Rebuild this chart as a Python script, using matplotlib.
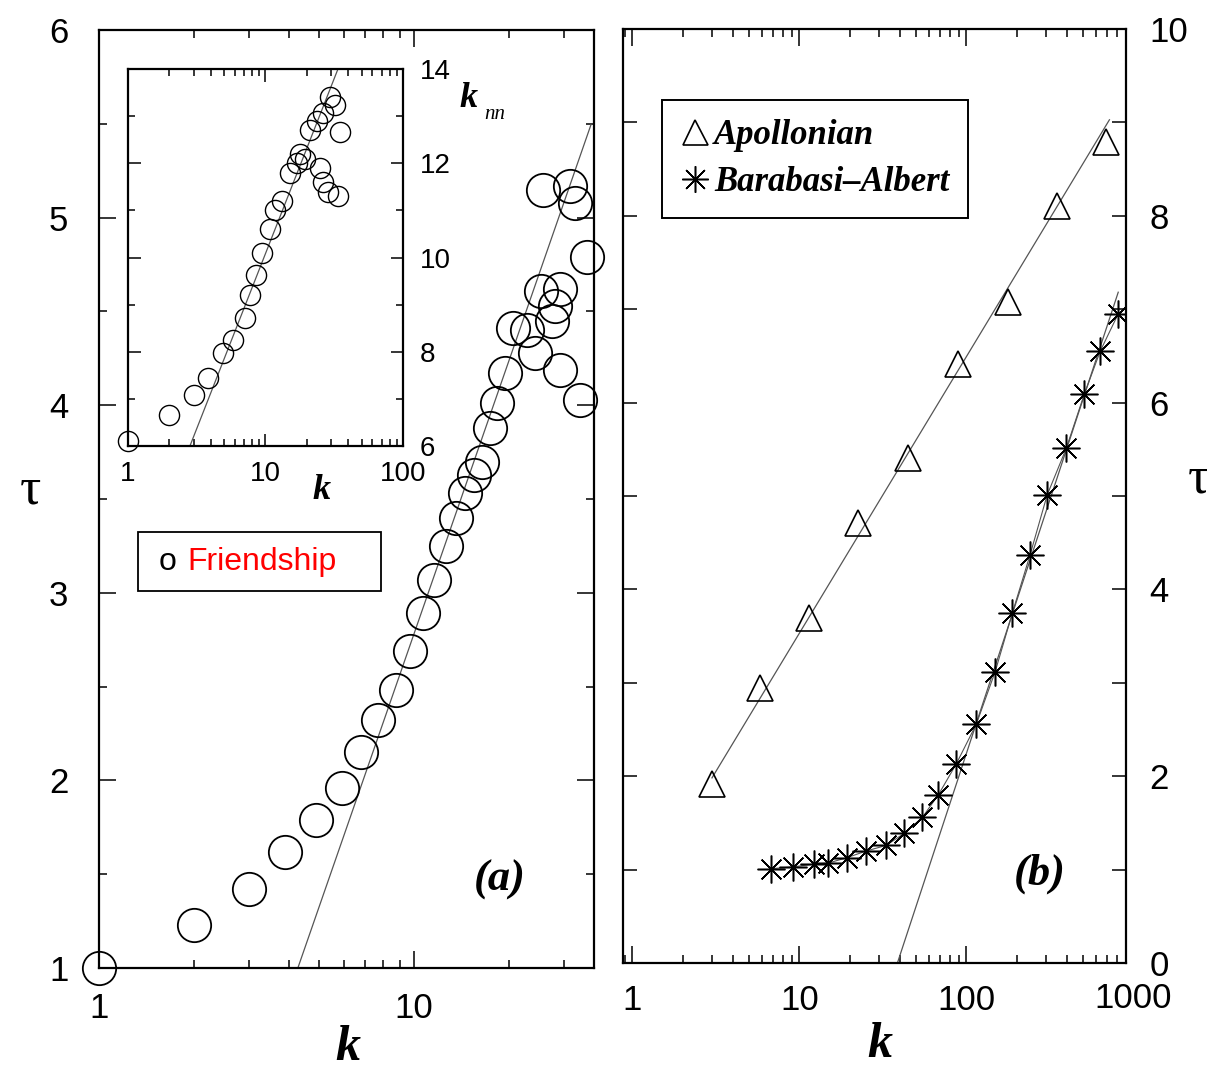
"""
Relaxation time tau vs degree k: (a) friendship network with k_nn inset,
(b) Apollonian and Barabasi-Albert networks.
"""

import matplotlib
matplotlib.use("Agg")  # headless backend
import matplotlib.pyplot as plt
import numpy as np
from matplotlib.lines import Line2D
from matplotlib.patches import Rectangle
from matplotlib.ticker import LogLocator, MultipleLocator, NullFormatter

# ---- panel (a): friendship network ----
friend_k = [1, 2, 3, 3.9, 4.9, 5.9, 6.8, 7.7, 8.8, 9.7, 10.7, 11.6, 12.6, 13.6,
            14.5, 15.5, 16.5, 17.4, 18.4, 19.4, 20.6, 22.8, 24.2, 25.4, 27.4,
            28.0, 29.1, 29.1, 33.7, 25.7, 31.3, 32.4, 35.4]
friend_tau = [1.0, 1.23, 1.42, 1.62, 1.79, 1.96, 2.15, 2.32, 2.48, 2.69, 2.89,
              3.07, 3.25, 3.40, 3.53, 3.63, 3.70, 3.88, 4.01, 4.17, 4.41, 4.40,
              4.28, 4.61, 4.45, 4.53, 4.62, 4.19, 4.03, 5.15, 5.17, 5.08, 4.79]
friend_fit = (-2.05, 4.83)       # tau = a + b*log10(k)
friend_fit_range = (4.28, 36.5)

# ---- inset: k_nn vs k ----
inset_k = [1, 2, 3, 3.8, 4.9, 5.8, 7.1, 7.7, 8.6, 9.4, 10.8, 11.7, 13.1, 15.1,
           16.9, 17.8, 19.5, 21.0, 23.6, 26.1, 29.4, 32.0, 34.8, 24.9, 26.1,
           28.5, 33.6]
inset_knn = [6.1, 6.66, 7.08, 7.44, 7.97, 8.25, 8.72, 9.2, 9.63, 10.1, 10.6,
             11.0, 11.2, 11.8, 12.0, 12.2, 12.1, 12.7, 12.9, 13.07, 13.4,
             13.24, 12.67, 11.9, 11.6, 11.4, 11.3]
inset_fit = (2.65, 7.43)
inset_fit_range = (2.8, 34.0)

# ---- panel (b): model networks ----
apol_k = [3, 5.8, 11.5, 22.5, 45, 89, 177, 350, 690]
apol_tau = [1.92, 2.94, 3.69, 4.71, 5.41, 6.41, 7.08, 8.10, 8.79]
apol_fit = (0.57, 2.96)
apol_fit_range = (3.0, 720.0)

ba_k = [6.8, 9.2, 12.3, 14.9, 19.4, 25.2, 33.2, 42.6, 54.6, 68, 87, 115, 149,
        189, 241, 305, 397, 509, 634, 813]
ba_tau = [1.01, 1.03, 1.06, 1.07, 1.13, 1.20, 1.26, 1.39, 1.56, 1.80, 2.13,
          2.56, 3.12, 3.75, 4.37, 5.01, 5.51, 6.09, 6.55, 6.95]
ba_fit = (-8.62, 5.43)
ba_fit_range = (38.6, 813.0)

legend_labels = ["Apollonian", "Barabasi\u2013Albert"]

SANS = "Liberation Sans"
SERIF = "Liberation Serif"
plt.rcParams["font.family"] = [SANS, "DejaVu Sans"]


def fit_line(ax, fit, k_range, **kw):
    """Draw tau = a + b*log10(k) over k_range."""
    k = np.logspace(np.log10(k_range[0]), np.log10(k_range[1]), 60)
    ax.plot(k, fit[0] + fit[1] * np.log10(k), color="#555555", lw=0.9, **kw)


def style_axes(ax, major_len=12, minor_len=6):
    for s in ax.spines.values():
        s.set_linewidth(1.6)
    ax.tick_params(which="both", direction="in", top=True, right=True,
                   width=1.1, colors="black")
    ax.tick_params(which="major", length=major_len)
    ax.tick_params(which="minor", length=minor_len)
    ax.xaxis.set_minor_locator(LogLocator(base=10, subs=np.arange(2, 10), numticks=20))
    ax.xaxis.set_minor_formatter(NullFormatter())


fig = plt.figure(figsize=(12.07, 10.77), dpi=100)

# ---------------- panel (a) ----------------
ax_a = fig.add_axes([0.0820, 0.1012, 0.4101, 0.8709])
ax_a.set_xscale("log")
ax_a.plot(friend_k, friend_tau, ls="none", marker="o", ms=24, mfc="none",
          mec="black", mew=1.3, clip_on=False, zorder=3)
fit_line(ax_a, friend_fit, friend_fit_range)
ax_a.set_xlim(1, 37.3)
ax_a.set_ylim(1, 6)
style_axes(ax_a)
ax_a.set_xticks([1, 10])
ax_a.set_xticklabels(["1", "10"])
ax_a.yaxis.set_major_locator(MultipleLocator(1))
ax_a.yaxis.set_minor_locator(MultipleLocator(0.5))
ax_a.tick_params(axis="y", labelsize=25, pad=22)
ax_a.tick_params(axis="x", labelsize=25, pad=17)

# friendship legend box
ax_a.add_patch(Rectangle((0.0788, 0.4019), 0.4909, 0.0629, transform=ax_a.transAxes,
                         facecolor="white", edgecolor="black", lw=1.3, zorder=5))
ax_a.text(0.139, 0.433, "o", transform=ax_a.transAxes, ha="center", va="center",
          fontsize=23, color="black", zorder=6)
ax_a.text(0.178, 0.433, "Friendship", transform=ax_a.transAxes, ha="left",
          va="center", fontsize=23, color="red", zorder=6)
ax_a.text(0.81, 0.094, "(a)", transform=ax_a.transAxes, ha="center", va="center",
          fontsize=32, family=SERIF, style="italic", weight="bold")

# ---------------- inset ----------------
ax_in = fig.add_axes([0.1060, 0.5859, 0.2278, 0.3500])
ax_in.set_xscale("log")
ax_in.plot(inset_k, inset_knn, ls="none", marker="o", ms=14.5, mfc="none",
           mec="black", mew=1.0, clip_on=False, zorder=3)
fit_line(ax_in, inset_fit, inset_fit_range)
ax_in.set_xlim(1, 100)
ax_in.set_ylim(6, 14)
style_axes(ax_in, major_len=9, minor_len=5)
ax_in.set_xticks([1, 10, 100])
ax_in.set_xticklabels(["1", "10", "100"])
ax_in.yaxis.set_major_locator(MultipleLocator(2))
ax_in.yaxis.set_minor_locator(MultipleLocator(1))
ax_in.tick_params(axis="y", labelleft=False, labelright=True, labelsize=20, pad=12)
ax_in.tick_params(axis="x", labelsize=20, pad=11)

# ---------------- panel (b) ----------------
ax_b = fig.add_axes([0.5162, 0.1058, 0.4167, 0.8673])
ax_b.set_xscale("log")
fit_line(ax_b, apol_fit, apol_fit_range)
fit_line(ax_b, ba_fit, ba_fit_range)
ax_b.plot(ba_k, ba_tau, color="#555555", lw=0.8)
ax_b.plot(apol_k, apol_tau, ls="none", marker="^", ms=19, mfc="none",
          mec="black", mew=1.2, zorder=3)
ax_b.plot(ba_k, ba_tau, ls="none", marker=(8, 2, 0), ms=20, color="black",
          mew=1.1, zorder=3)
ax_b.set_xlim(0.88, 905)
ax_b.set_ylim(0, 10)
style_axes(ax_b)
ax_b.set_xticks([1, 10, 100])
ax_b.set_xticklabels(["1", "10", "100"])
ax_b.yaxis.set_major_locator(MultipleLocator(2))
ax_b.yaxis.set_minor_locator(MultipleLocator(1))
ax_b.tick_params(axis="y", which="both", length=10)
ax_b.tick_params(axis="y", labelleft=False, labelright=True, labelsize=25, pad=17)
ax_b.tick_params(axis="x", labelsize=25, pad=15)
# the "1000" label sits past the frame edge
ax_b.text(1000, -0.0375, "1000", transform=ax_b.get_xaxis_transform(), ha="center",
          va="center", fontsize=25, clip_on=False)

handles = [
    Line2D([], [], ls="none", marker="^", ms=18, mfc="none", mec="black", mew=1.2),
    Line2D([], [], ls="none", marker=(8, 2, 0), ms=19, color="black", mew=1.1),
]
leg = ax_b.legend(handles, legend_labels, loc="upper left",
                  bbox_to_anchor=(0.0775, 0.924), borderaxespad=0, frameon=True,
                  fancybox=False, edgecolor="black", framealpha=1,
                  borderpad=0.55, handlelength=0.8, handletextpad=0.15,
                  labelspacing=0.4,
                  prop=dict(family=SERIF, style="italic", weight="bold", size=25))
leg.get_frame().set_linewidth(1.4)
ax_b.text(0.829, 0.096, "(b)", transform=ax_b.transAxes, ha="center", va="center",
          fontsize=32, family=SERIF, style="italic", weight="bold")

# ---------------- axis labels ----------------
fig.text(0.288, 0.027, "k", ha="center", va="center", fontsize=36, family=SERIF,
         style="italic", weight="bold")
fig.text(0.729, 0.030, "k", ha="center", va="center", fontsize=36, family=SERIF,
         style="italic", weight="bold")
fig.text(0.2668, 0.545, "k", ha="center", va="center", fontsize=26, family=SERIF,
         style="italic", weight="bold")
fig.text(0.3885, 0.909, "k", ha="center", va="center", fontsize=26, family=SERIF,
         style="italic", weight="bold")
fig.text(0.410, 0.894, "nn", ha="center", va="center", fontsize=15, family=SERIF,
         style="italic")
fig.text(0.025, 0.545, "\u03c4", ha="center", va="center", fontsize=38, family=SERIF)
fig.text(0.9925, 0.555, "\u03c4", ha="center", va="center", fontsize=38, family=SERIF)

fig.savefig("out.png", dpi=100)
